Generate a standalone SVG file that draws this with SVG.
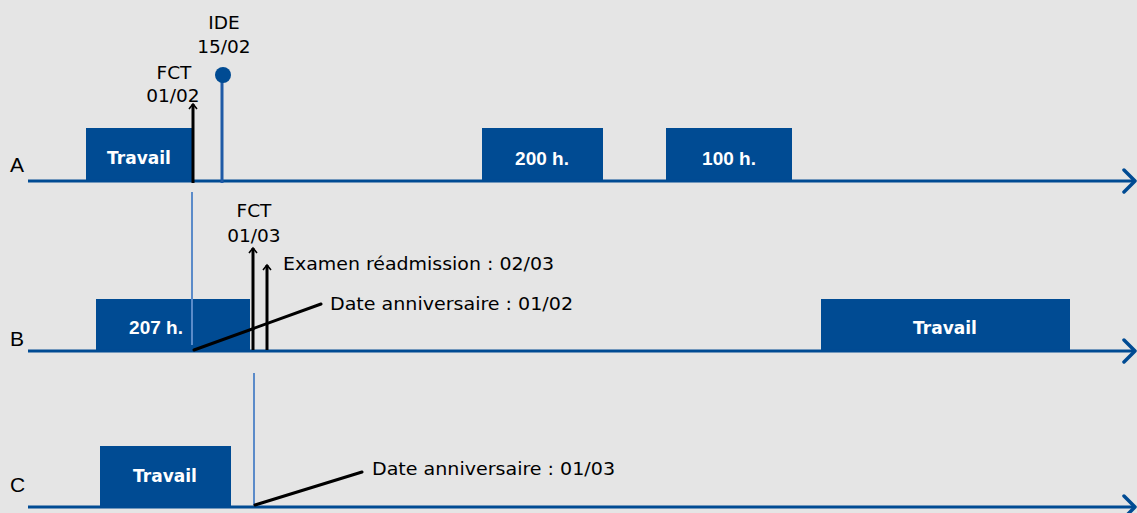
<svg xmlns="http://www.w3.org/2000/svg" width="1137" height="513" viewBox="0 0 1137 513">
<style>
.axis{stroke:#004b93;stroke-width:3;fill:none}
.chev{stroke:#004b93;stroke-width:3.5;fill:none;stroke-linecap:round;stroke-linejoin:round}
.box{fill:#004b93}
.bl{fill:#fff;font-family:"DejaVu Sans",sans-serif;font-weight:bold;font-size:17px;text-anchor:middle}
.bn{fill:#fff;font-family:"Liberation Sans",Arial,sans-serif;font-weight:bold;font-size:19px;text-anchor:middle}
.lbl{fill:#000;font-family:"DejaVu Sans",sans-serif;font-size:18.5px}
.lc{text-anchor:middle}
.row{fill:#000;font-family:"Liberation Sans",Arial,sans-serif;font-size:21px}
.arr{stroke:#000;stroke-width:3;fill:none}
.thin{stroke:#5b8bc9;stroke-width:2}
.lead{stroke:#000;stroke-width:3;stroke-linecap:round}
</style>
<defs>
<marker id="ah" markerUnits="userSpaceOnUse" viewBox="-8 -6 10 12" markerWidth="10" markerHeight="12" refX="0" refY="0" orient="auto">
<path d="M-5,-4 L0,0 L-5,4" stroke="#000" stroke-width="1.6" fill="none"/>
</marker>
</defs>
<rect width="1137" height="513" fill="#e5e5e5"/>

<g id="rows">
<text class="row" x="10" y="172">A</text>
<text class="row" x="10" y="346">B</text>
<text class="row" x="10" y="492">C</text>
</g>

<g id="a-travail"><rect class="box" x="86" y="128" width="107" height="53"/><text class="bl" x="139" y="164">Travail</text></g>
<g id="a-200"><rect class="box" x="482" y="128" width="121" height="53"/><text class="bn" x="542" y="165">200 h.</text></g>
<g id="a-100"><rect class="box" x="666" y="128" width="126" height="53"/><text class="bn" x="729" y="165">100 h.</text></g>
<g id="b-207"><rect class="box" x="96" y="299" width="154" height="52"/><text class="bn" x="156" y="334">207 h.</text></g>
<g id="b-travail"><rect class="box" x="821" y="299" width="249" height="52"/><text class="bl" x="945" y="334">Travail</text></g>
<g id="c-travail"><rect class="box" x="100" y="446" width="131" height="60"/><text class="bl" x="165" y="482">Travail</text></g>

<g id="connectors">
<line class="axis" x1="28" y1="181" x2="1135" y2="181"/>
<polyline class="chev" points="1124,170 1135,181 1124,192"/>
<line class="axis" x1="28" y1="351" x2="1135" y2="351"/>
<polyline class="chev" points="1124,340 1135,351 1124,362"/>
<line class="axis" x1="28" y1="507" x2="1135" y2="507"/>
<polyline class="chev" points="1124,496 1135,507 1124,518"/>
<line class="thin" x1="192" y1="192" x2="192" y2="345"/>
<line class="thin" x1="254" y1="373" x2="254" y2="505"/>
<line class="arr" x1="193" y1="183" x2="193" y2="104" marker-end="url(#ah)"/>
<line class="arr" x1="253" y1="350" x2="253" y2="248" marker-end="url(#ah)"/>
<line class="arr" x1="267" y1="350" x2="267" y2="265" marker-end="url(#ah)"/>
<line class="lead" x1="194" y1="350" x2="321" y2="304"/>
<line class="lead" x1="255" y1="505" x2="362" y2="472"/>
<line x1="222" y1="75" x2="222" y2="183" stroke="#1f5aa6" stroke-width="3"/>
</g>

<g id="ide">
<circle cx="223" cy="75" r="8" fill="#004b93"/>
<text class="lbl lc" x="224" y="29">IDE</text>
<text class="lbl lc" x="224" y="53">15/02</text>
</g>
<g id="fct-a">
<text class="lbl lc" x="174" y="79">FCT</text>
<text class="lbl lc" x="173" y="102">01/02</text>
</g>
<g id="fct-b">
<text class="lbl lc" x="254" y="217">FCT</text>
<text class="lbl lc" x="254" y="242">01/03</text>
</g>
<g id="examen"><text class="lbl" x="283" y="270" textLength="271" lengthAdjust="spacingAndGlyphs">Examen réadmission : 02/03</text></g>
<g id="date-b"><text class="lbl" x="330" y="310" textLength="243" lengthAdjust="spacingAndGlyphs">Date anniversaire : 01/02</text></g>
<g id="date-c"><text class="lbl" x="372" y="475" textLength="243" lengthAdjust="spacingAndGlyphs">Date anniversaire : 01/03</text></g>
</svg>
